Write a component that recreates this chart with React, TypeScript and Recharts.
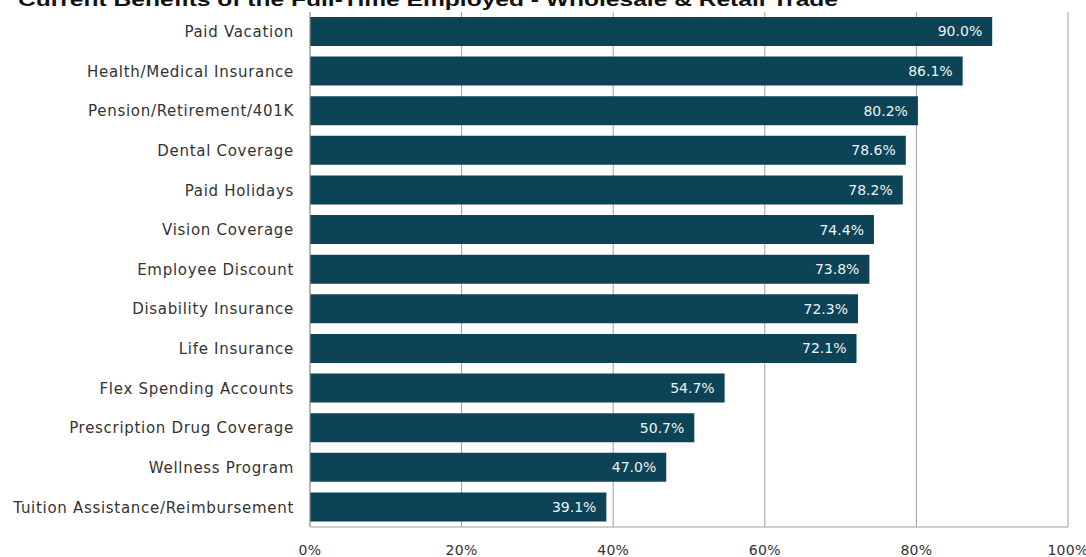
import { BarChart, Bar, XAxis, YAxis, CartesianGrid, LabelList } from 'recharts'

const benefits = [
  'Paid Vacation',
  'Health/Medical Insurance',
  'Pension/Retirement/401K',
  'Dental Coverage',
  'Paid Holidays',
  'Vision Coverage',
  'Employee Discount',
  'Disability Insurance',
  'Life Insurance',
  'Flex Spending Accounts',
  'Prescription Drug Coverage',
  'Wellness Program',
  'Tuition Assistance/Reimbursement',
]

const shares = [90.0, 86.1, 80.2, 78.6, 78.2, 74.4, 73.8, 72.3, 72.1, 54.7, 50.7, 47.0, 39.1]

const xTicks = [0, 20, 40, 60, 80, 100]

const TITLE = 'Current Benefits of the Full-Time Employed - Wholesale & Retail Trade'

const data = benefits.map((name, i) => ({ name, value: shares[i] }))

const BAR = '#0d4357'
const GRID = '#a0a0a0'
const FONT = '"DejaVu Sans", sans-serif'

export default function App() {
  return (
    <div style={{ position: 'absolute', left: 0, top: 0, width: 1086, height: 557, background: '#fff' }}>
      <svg width={1086} height={20} style={{ position: 'absolute', left: 0, top: 0 }}>
        <text
          x={18}
          y={6}
          fontFamily='"Liberation Sans", sans-serif'
          fontWeight="bold"
          fontSize={19}
          fill="#111"
          textLength={820}
          lengthAdjust="spacingAndGlyphs"
        >
          {TITLE}
        </text>
      </svg>
      <BarChart
        width={1086}
        height={557}
        data={data}
        layout="vertical"
        margin={{ top: 12, right: 18, left: 0, bottom: 0 }}
        barSize={29}
      >
        <CartesianGrid vertical horizontal={false} stroke={GRID} />
        <XAxis
          type="number"
          domain={[0, 100]}
          ticks={xTicks}
          tickFormatter={(v: number) => `${v}%`}
          height={30}
          tickSize={0}
          tickMargin={18}
          axisLine={{ stroke: GRID }}
          tick={{ fill: '#333', fontSize: 14, fontFamily: FONT, letterSpacing: 0.3 }}
          interval={0}
        />
        <XAxis
          xAxisId="top"
          orientation="top"
          type="number"
          domain={[0, 100]}
          height={0}
          tick={false}
          tickLine={false}
          axisLine={{ stroke: GRID }}
        />
        <YAxis
          type="category"
          dataKey="name"
          width={310}
          tickSize={0}
          tickMargin={16}
          axisLine={{ stroke: GRID }}
          tick={{ fill: '#333', fontSize: 15, fontFamily: FONT, letterSpacing: 0.7 }}
          interval={0}
        />
        <Bar dataKey="value" fill={BAR} isAnimationActive={false}>
          <LabelList
            dataKey="value"
            position="insideRight"
            offset={10}
            fill="#eef3f5"
            fontSize={14}
            fontFamily={FONT}
            formatter={(v: number) => `${v.toFixed(1)}%`}
          />
        </Bar>
      </BarChart>
    </div>
  )
}
